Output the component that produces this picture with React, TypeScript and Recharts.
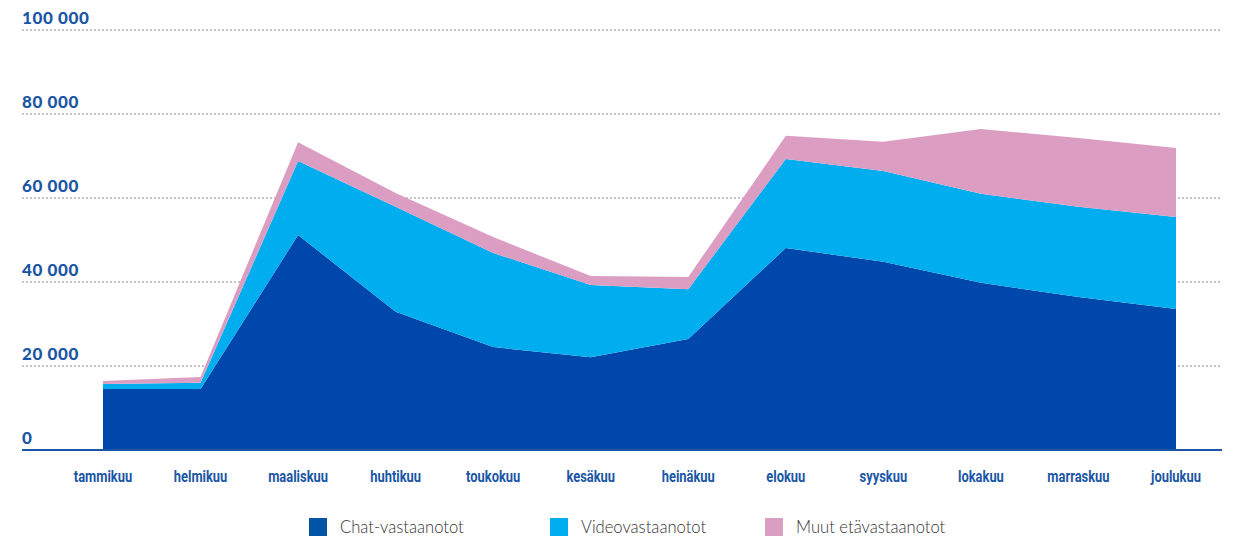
import React from 'react';
import { AreaChart, Area, XAxis, YAxis, CartesianGrid } from 'recharts';

const MONTHS = ['tammikuu', 'helmikuu', 'maaliskuu', 'huhtikuu', 'toukokuu', 'kesäkuu', 'heinäkuu', 'elokuu', 'syyskuu', 'lokakuu', 'marraskuu', 'joulukuu'];
const CHAT = [14500, 14500, 51200, 32900, 24500, 22100, 26400, 48100, 44800, 39800, 36400, 33600];
const VIDEO = [1200, 1500, 17600, 25000, 22400, 17200, 11900, 21200, 21600, 21200, 21500, 21900];
const MUUT = [700, 1400, 4500, 3300, 3800, 2100, 2900, 5500, 7000, 15400, 16400, 16400];
const Y_TICKS = [0, 20000, 40000, 60000, 80000, 100000];

const SERIES = [
    { key: 'chat', name: 'Chat-vastaanotot', color: '#0047ab', legend: '#0054a6' },
    { key: 'video', name: 'Videovastaanotot', color: '#00aeef', legend: '#00aeef' },
    { key: 'muut', name: 'Muut etävastaanotot', color: '#dc9dc3', legend: '#dc9dc3' },
];

const LABEL_BLUE = '#1a56a5';

const data = MONTHS.map((m, i) => ({ month: m, chat: CHAT[i], video: VIDEO[i], muut: MUUT[i] }));

// thousands separated with a space, e.g. "100 000"
const fmt = (v: number) => String(v).replace(/\B(?=(\d{3})+(?!\d))/g, ' ');

const renderYTick = (props: any) => {
    const { y, payload } = props;
    return (
        <text key={payload.value} x={22} y={y - 6} textAnchor="start" fill={LABEL_BLUE}
            style={{ fontFamily: 'Lato, sans-serif', fontWeight: 900, fontSize: 17, letterSpacing: 0.6 }}>
            {fmt(payload.value)}
        </text>
    );
};

// condensed month labels: squeeze a regular bold face horizontally
const renderXTick = (props: any) => {
    const { x, y, payload } = props;
    return (
        <text key={payload.value} transform={`translate(${x},${y + 13}) scale(0.76,1)`} textAnchor="middle" fill={LABEL_BLUE}
            style={{ fontFamily: 'Roboto, sans-serif', fontWeight: 700, fontSize: 17 }}>
            {payload.value}
        </text>
    );
};

const legendLefts = [309, 550, 765];

export default function App() {
    return (
        <div style={{ position: 'absolute', left: 0, top: 0, width: 1233, height: 538, background: '#fff', overflow: 'hidden' }}>
            <AreaChart width={1233} height={538} data={data} margin={{ top: 30, right: 11, bottom: 0, left: 21 }}>
                <CartesianGrid vertical={false} stroke="#c4c4c4" strokeWidth={2} strokeDasharray="2 2" />
                <YAxis
                    width={1}
                    domain={[0, 100000]}
                    ticks={Y_TICKS}
                    axisLine={false}
                    tickLine={false}
                    tickSize={0}
                    tickMargin={0}
                    tick={renderYTick}
                />
                <XAxis
                    dataKey="month"
                    height={88}
                    padding={{ left: 81, right: 46 }}
                    axisLine={{ stroke: '#1a56a5', strokeWidth: 2 }}
                    tickLine={false}
                    tickSize={0}
                    tickMargin={19}
                    interval={0}
                    tick={renderXTick}
                />
                {SERIES.map(s => (
                    <Area
                        key={s.key}
                        type="linear"
                        dataKey={s.key}
                        name={s.name}
                        stackId="a"
                        stroke="none"
                        fill={s.color}
                        fillOpacity={1}
                        isAnimationActive={false}
                    />
                ))}
            </AreaChart>
            {SERIES.map((s, i) => (
                <div key={s.key} style={{ position: 'absolute', left: legendLefts[i], top: 517, display: 'flex', alignItems: 'center' }}>
                    <div style={{ width: 18, height: 18, background: s.legend }} />
                    <span style={{ marginLeft: 13, fontFamily: 'Lato, sans-serif', fontWeight: 300, fontSize: 16.6, color: '#333', lineHeight: '20px' }}>
                        {s.name}
                    </span>
                </div>
            ))}
        </div>
    );
}
